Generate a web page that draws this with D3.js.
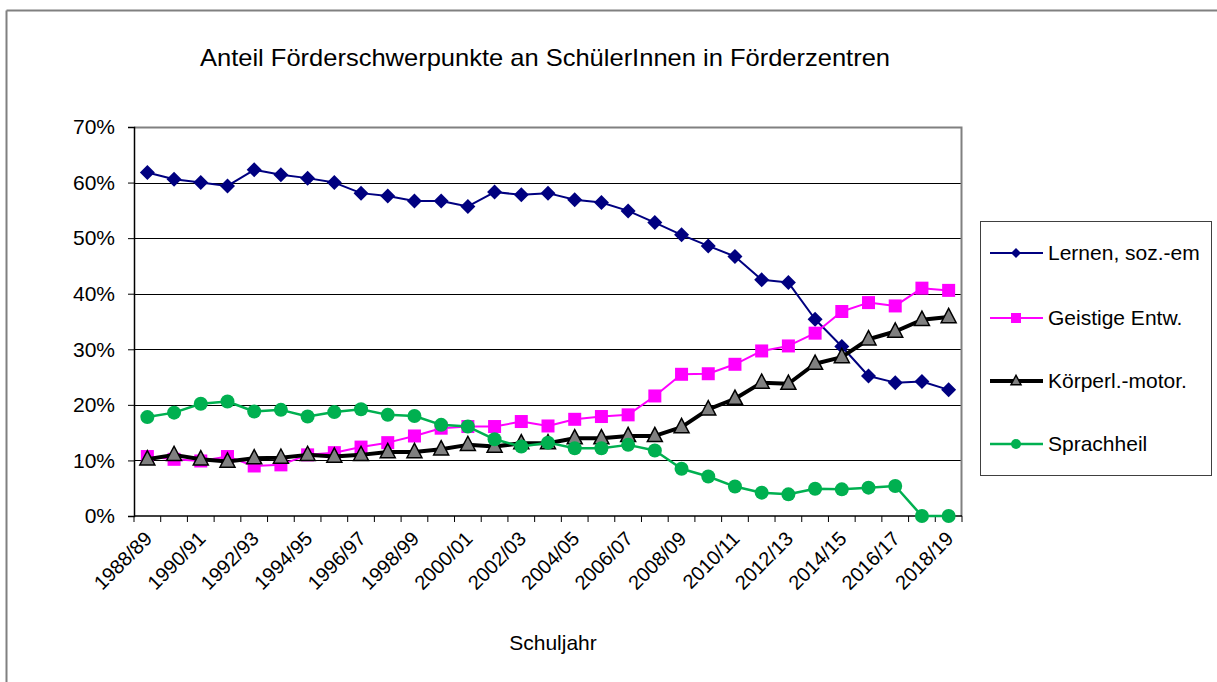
<!DOCTYPE html>
<html lang="de">
<head>
<meta charset="UTF-8">
<title>Anteil Förderschwerpunkte</title>
<script src="https://d3js.org/d3.v7.min.js"></script>
<style>
  body { margin: 0; background: #fff; }
  svg text { font-family: "Liberation Sans", Arial, sans-serif; fill: #000; }
</style>
</head>
<body>
<div id="chart"></div>
<script>
// school years 1988/89 .. 2018/19
const years = d3.range(1988, 2019).map(y => y + "/" + String((y + 1) % 100).padStart(2, "0"));

const lernen = [61.8, 60.6, 60.0, 59.4, 62.3, 61.4, 60.8, 60.0, 58.1, 57.6, 56.7, 56.7, 55.7, 58.3, 57.8, 58.1,
                56.9, 56.4, 54.9, 52.8, 50.6, 48.6, 46.7, 42.5, 42.0, 35.4, 30.5, 25.2, 24.0, 24.2, 22.7];
const geistige = [10.7, 10.2, 9.9, 10.7, 9.0, 9.2, 11.0, 11.4, 12.4, 13.2, 14.4, 15.8, 16.1, 16.1, 17.0, 16.2,
                  17.4, 17.9, 18.2, 21.6, 25.5, 25.6, 27.3, 29.7, 30.6, 32.9, 36.8, 38.4, 37.8, 41.0, 40.6];
const koerper = [10.2, 11.0, 10.2, 9.8, 10.4, 10.5, 11.0, 10.7, 11.0, 11.5, 11.5, 12.0, 12.8, 12.5, 13.1, 13.1,
                 14.0, 14.0, 14.4, 14.4, 16.0, 19.2, 21.1, 24.0, 23.8, 27.4, 28.6, 31.8, 33.2, 35.3, 35.8];
const sprach = [17.8, 18.6, 20.2, 20.6, 18.8, 19.1, 17.9, 18.7, 19.2, 18.2, 18.0, 16.4, 16.1, 13.8, 12.5, 13.2,
                12.2, 12.2, 12.8, 11.8, 8.5, 7.1, 5.3, 4.2, 3.9, 4.9, 4.8, 5.1, 5.4, 0, 0];

const yTicks = [0, 10, 20, 30, 40, 50, 60, 70];

const series = [
  { name: "Lernen, soz.-em", values: lernen, color: "#000080", width: 2, marker: "diamond" },
  { name: "Geistige Entw.", values: geistige, color: "#ff00ff", width: 2, marker: "square" },
  { name: "Körperl.-motor.", values: koerper, color: "#000000", width: 4, marker: "triangle" },
  { name: "Sprachheil", values: sprach, color: "#00b050", width: 2.5, marker: "circle" }
];

const W = 1217, H = 682;
const plot = { left: 134, right: 962, top: 127, bottom: 516 };

const svg = d3.select("#chart").append("svg")
    .attr("width", W)
    .attr("height", H);

// outer frame (only top and left edges visible)
svg.append("line").attr("x1", 6.5).attr("x2", W).attr("y1", 10.5).attr("y2", 10.5)
    .attr("stroke", "#808080").attr("stroke-width", 2);
svg.append("line").attr("x1", 6.5).attr("x2", 6.5).attr("y1", 10.5).attr("y2", H)
    .attr("stroke", "#808080").attr("stroke-width", 2);

// title
svg.append("text")
    .attr("x", 545)
    .attr("y", 66)
    .attr("text-anchor", "middle")
    .attr("textLength", 690)
    .attr("lengthAdjust", "spacingAndGlyphs")
    .style("font-size", "24px")
    .text("Anteil Förderschwerpunkte an SchülerInnen in Förderzentren");

const x = d3.scaleBand().domain(years).range([plot.left, plot.right]);
const y = d3.scaleLinear().domain([0, 70]).range([plot.bottom, plot.top]);
const cx = d => x(d) + x.bandwidth() / 2;

// gridlines
svg.append("g")
    .selectAll("line")
    .data(yTicks.filter(t => t > 0 && t < 70))
    .join("line")
    .attr("x1", plot.left).attr("x2", plot.right)
    .attr("y1", d => Math.round(y(d)) + 0.5).attr("y2", d => Math.round(y(d)) + 0.5)
    .attr("stroke", "#000").attr("stroke-width", 1);

// plot border top / right
svg.append("path")
    .attr("d", `M${plot.left},${plot.top + 0.5}H${plot.right - 0.5}V${plot.bottom}`)
    .attr("fill", "none").attr("stroke", "#808080").attr("stroke-width", 2);

// y axis
const yAxis = svg.append("g")
    .attr("transform", `translate(${plot.left},0)`)
    .call(d3.axisLeft(y).tickValues(yTicks).tickFormat(d => d + "%").tickSize(6).tickPadding(13));
yAxis.select(".domain").attr("stroke", "#000").attr("stroke-width", 1.5);
yAxis.selectAll("text").style("font-size", "21px").attr("fill", "#000");

// x axis: ticks between categories
const xAxis = svg.append("g")
    .attr("transform", `translate(0,${plot.bottom})`);
xAxis.append("line")
    .attr("x1", plot.left).attr("x2", plot.right)
    .attr("stroke", "#000").attr("stroke-width", 1.5);
xAxis.selectAll("line.tick")
    .data(d3.range(years.length + 1))
    .join("line")
    .attr("class", "tick")
    .attr("x1", i => plot.left + i * x.step()).attr("x2", i => plot.left + i * x.step())
    .attr("y1", 0).attr("y2", 6)
    .attr("stroke", "#000");
xAxis.selectAll("text")
    .data(years.filter((d, i) => i % 2 === 0))
    .join("text")
    .attr("transform", d => `translate(${cx(d) + 6},${24}) rotate(-45)`)
    .attr("text-anchor", "end")
    .style("font-size", "20px")
    .text(d => d);

// axis title
svg.append("text")
    .attr("x", 553)
    .attr("y", 650)
    .attr("text-anchor", "middle")
    .style("font-size", "21px")
    .text("Schuljahr");

// marker shapes
function drawMarker(g, type, color, size) {
  if (type === "diamond") {
    const h = size / 2;
    g.append("path").attr("d", `M0,${-h}L${h},0L0,${h}L${-h},0Z`).attr("fill", color);
  } else if (type === "square") {
    g.append("rect").attr("x", -size / 2).attr("y", -size / 2)
      .attr("width", size).attr("height", size).attr("fill", color);
  } else if (type === "triangle") {
    const s = size / 2;
    g.append("path").attr("d", `M0,${-s * 1.15}L${s},${s * 0.75}L${-s},${s * 0.75}Z`)
      .attr("fill", "#808080").attr("stroke", "#000").attr("stroke-width", 1.5);
  } else {
    g.append("circle").attr("r", size / 2).attr("fill", color);
  }
}

const markerSize = { diamond: 15, square: 13, triangle: 15, circle: 14 };

// lines + markers
series.forEach(s => {
  const line = d3.line()
      .x((v, i) => cx(years[i]))
      .y(v => y(v));
  svg.append("path")
      .datum(s.values)
      .attr("d", line)
      .attr("fill", "none")
      .attr("stroke", s.color)
      .attr("stroke-width", s.width)
      .attr("stroke-linejoin", "round");
  s.values.forEach((v, i) => {
    const g = svg.append("g").attr("transform", `translate(${cx(years[i])},${y(v)})`);
    drawMarker(g, s.marker, s.color, markerSize[s.marker]);
  });
});

// legend
const legend = svg.append("g");
legend.append("rect")
    .attr("x", 980.5).attr("y", 221.5)
    .attr("width", 231).attr("height", 254)
    .attr("fill", "#fff").attr("stroke", "#404040").attr("stroke-width", 1);

const legendY = [253, 318, 381, 444];
series.forEach((s, i) => {
  const g = legend.append("g").attr("transform", `translate(0,${legendY[i]})`);
  g.append("line").attr("x1", 990).attr("x2", 1043)
    .attr("stroke", s.color).attr("stroke-width", s.width);
  const m = g.append("g").attr("transform", "translate(1016,0)");
  drawMarker(m, s.marker, s.color, s.marker === "triangle" ? 10 : 10);
  g.append("text")
    .attr("x", 1048)
    .attr("dy", "0.35em")
    .style("font-size", "21px")
    .text(s.name);
});
</script>
</body>
</html>
